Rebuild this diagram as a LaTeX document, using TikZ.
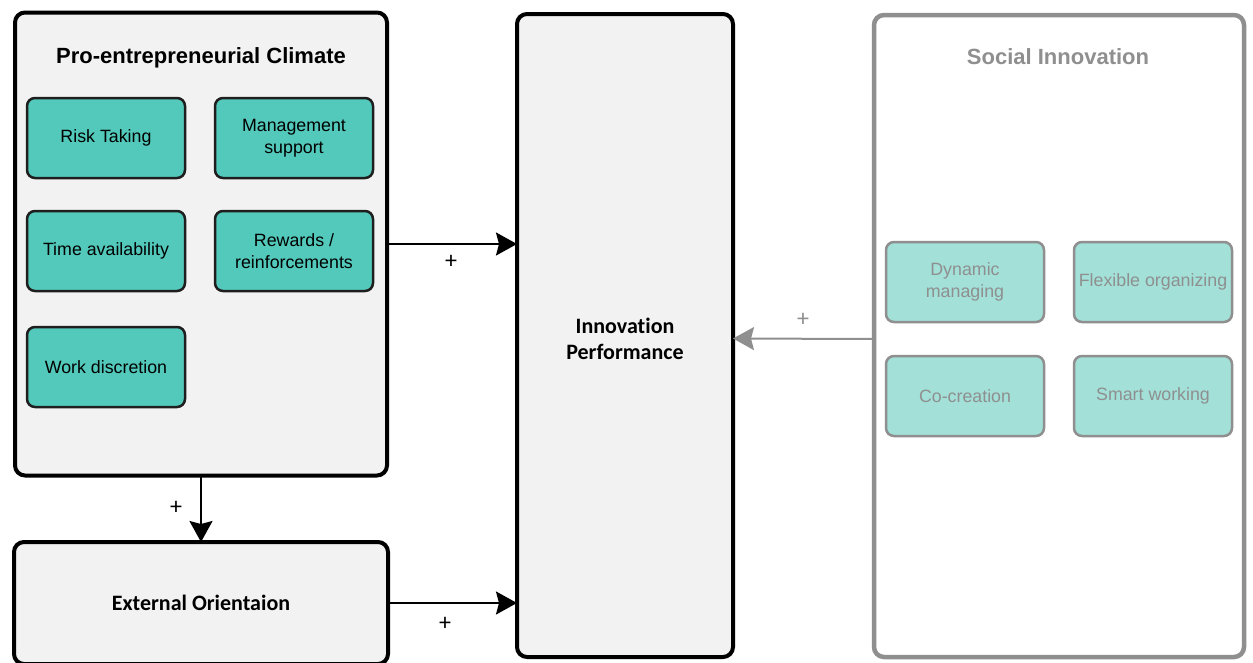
\documentclass[tikz,border=0pt]{standalone}
\usepackage{fontspec}
\usetikzlibrary{arrows.meta}
\newfontfamily\arialf{Liberation Sans}
\newfontfamily\calf[Ligatures=NoCommon]{Carlito}
\definecolor{panelfill}{HTML}{F2F2F2}
\definecolor{tealfill}{HTML}{53C9BB}
\definecolor{tealedge}{HTML}{1E1E1E}
\definecolor{palefill}{HTML}{A2E0D8}
\definecolor{softgray}{HTML}{8F8F8F}
\tikzset{
  panel/.style={draw=black, line width=4pt, fill=panelfill, rounded corners=10pt,
    outer sep=0pt, inner sep=0pt},
  softpanel/.style={draw=softgray, line width=4.5pt, fill=white, rounded corners=10pt,
    outer sep=0pt, inner sep=0pt},
  factor/.style={draw=tealedge, line width=2.5pt, fill=tealfill, rounded corners=8pt,
    minimum width=158pt, minimum height=80pt, outer sep=0pt, inner sep=0pt,
    align=center, font=\arialf\fontsize{17.8}{21.5}\selectfont, text=black},
  softfactor/.style={draw=softgray, line width=2.5pt, fill=palefill, rounded corners=8pt,
    minimum width=158pt, minimum height=80pt, outer sep=0pt, inner sep=0pt,
    align=center, font=\arialf\fontsize{17.8}{21.5}\selectfont, text=softgray},
  paneltitle/.style={font=\arialf\bfseries\fontsize{22}{26}\selectfont},
  bigtext/.style={font=\calf\bfseries\fontsize{22}{26}\selectfont, align=center},
  plus/.style={font=\calf\fontsize{24}{28}\selectfont, inner sep=0pt},
  arr/.style={line width=2pt, -{Stealth[length=21pt,width=23pt,inset=3pt]}},
  softarr/.style={line width=2pt, draw=softgray,
    -{Stealth[length=21pt,width=23pt,inset=3pt,fill=softgray]}}
}
\begin{document}
\begin{tikzpicture}[x=1pt, y=-1pt]
\useasboundingbox (0,0) rectangle (1253,662);

% main panels
\node[panel, minimum width=372pt, minimum height=463pt] (pro) at (201,244) {};
\node[panel, minimum width=374pt, minimum height=122pt, bigtext] (ext) at (201,603) {External Orientaion};
\node[panel, minimum width=216pt, minimum height=643pt] (inno) at (625,335.5) {};
\node[softpanel, minimum width=370pt, minimum height=642pt] (soc) at (1059,336) {};

% panel titles
\node[paneltitle] (protitle) at (201,58) {Pro-entrepreneurial Climate};
\node[paneltitle, text=softgray] (soctitle) at (1058,57) {Social Innovation};
\node[bigtext] (innotitle) at (625,338.5) {Innovation\\Performance};

% climate factors
\node[factor] (risk) at (106,138) {Risk Taking};
\node[factor] (mgmt) at (294,138) {Management\\support};
\node[factor] (time) at (106,251) {Time availability};
\node[factor] (rew) at (294,251) {Rewards /\\reinforcements};
\node[factor] (work) at (106,367) {Work discretion};

% social innovation factors
\node[softfactor] (dyn) at (965,282) {Dynamic\\managing};
\node[softfactor] (flex) at (1153,282) {Flexible organizing};
\node[softfactor] (cocr) at (965,396) {Co-creation};
\node[softfactor] (smart) at (1153,396) {Smart working};

% connectors
\draw[arr] (pro.east) -- (pro.east -| inno.west);
\draw[arr] (pro.south) -- (ext.north);
\draw[arr] (ext.east) -- (ext.east -| inno.west);
\draw[softarr] ([yshift=-3pt]soc.west) -- ([yshift=-3pt]inno.east);

% signs
\node[plus] (p1) at (451,262) {+};
\node[plus] (p2) at (176,508) {+};
\node[plus] (p3) at (445,624) {+};
\node[plus, text=softgray] (p4) at (803,320) {+};
\end{tikzpicture}
\end{document}
